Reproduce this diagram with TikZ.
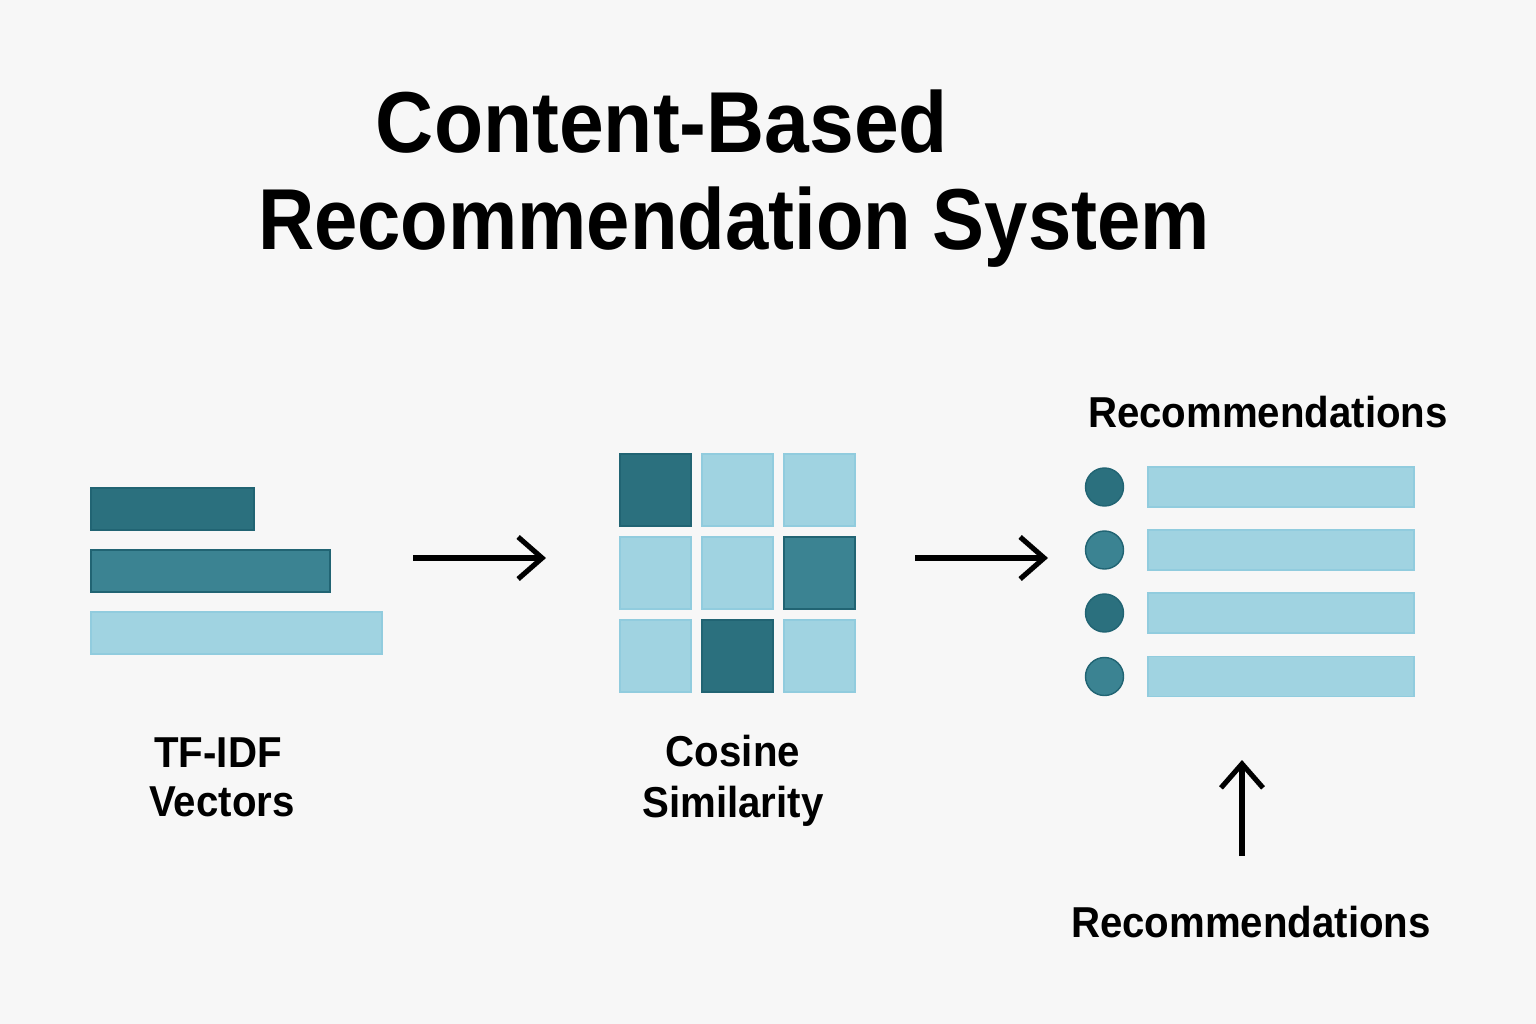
\documentclass[tikz,border=0pt]{standalone}
\usepackage{fontspec}
\setmainfont{Liberation Sans}
\newfontfamily\headfont[FakeStretch=0.9]{Liberation Sans}
\newfontfamily\labelfont[FakeStretch=0.93]{Liberation Sans}
\usetikzlibrary{arrows.meta}
\definecolor{paper}{RGB}{247, 247, 247}
\definecolor{deep}{RGB}{43, 112, 126}
\definecolor{mid}{RGB}{59, 131, 146}
\definecolor{pale}{RGB}{160, 211, 225}
\definecolor{deepedge}{RGB}{33, 100, 115}
\definecolor{paleedge}{RGB}{145, 204, 222}

\begin{document}
\begin{tikzpicture}[x=0.01cm, y=-0.01cm, thick,
  deepcell/.style={fill=deep, draw=deepedge, line width=0.4pt},
  midcell/.style={fill=mid, draw=deepedge, line width=0.4pt},
  palecell/.style={fill=pale, draw=paleedge, line width=0.4pt},
  arrow/.style={line width=1.45pt, -{Straight Barb[length=2.4mm, width=4.2mm]}},
  heading/.style={font=\headfont\bfseries\fontsize{24.6}{28}\selectfont, anchor=base, inner sep=0pt},
  wideheading/.style={heading, font=\labelfont\bfseries\fontsize{24.6}{28}\selectfont},
  caption/.style={font=\labelfont\bfseries\fontsize{12.3}{14.8}\selectfont, anchor=base, inner sep=0pt}]

  \fill[paper] (0, 0) rectangle (1536, 1024);
  \useasboundingbox (0, 0) rectangle (1536, 1024);

  \node[wideheading] (title top) at (662, 152) {Content-Based};
  \node[heading] (title bottom) at (734, 249) {Recommendation System};

  \foreach \w/\y/\c in {254/488/deep, 330/550/mid, 382/612/pale} {
    \filldraw[\c cell] (91, \y) rectangle (\w, \y + 42);
  }
  \node[caption] (tfidf) at (218, 767) {TF-IDF};
  \node[caption] (vectors) at (222, 816) {Vectors};

  \foreach \col/\row/\c in {0/0/deep, 1/0/pale, 2/0/pale,
                            0/1/pale, 1/1/pale, 2/1/mid,
                            0/2/pale, 1/2/deep, 2/2/pale} {
    \filldraw[\c cell] ({620 + 82 * \col}, {454 + 83 * \row}) rectangle +(71, 72);
  }
  \node[caption] (cosine) at (733, 766) {Cosine};
  \node[caption] (similarity) at (733, 817) {Similarity};

  \node[caption] (rec top) at (1268, 427) {Recommendations};
  \foreach \y/\c in {487/deep, 550/mid, 613/deep, 676.5/mid} {
    \filldraw[\c cell] (1104.5, \y) circle (1.9mm);
    \filldraw[palecell] (1148, \y - 20) rectangle (1414, \y + 20);
  }
  \node[caption] (rec bottom) at (1251, 937) {Recommendations};

  \coordinate (vec out) at (413, 558);
  \coordinate (sim in) at (546, 558);
  \coordinate (sim out) at (915, 558);
  \coordinate (list in) at (1048, 558);
  \coordinate (rec foot) at (1242, 856);
  \coordinate (rec head) at (1242, 760);

  \draw[arrow] (vec out) -- (sim in);
  \draw[arrow] (sim out) -- (list in);
  \draw[arrow] (rec foot) -- (rec head);

\end{tikzpicture}
\end{document}
